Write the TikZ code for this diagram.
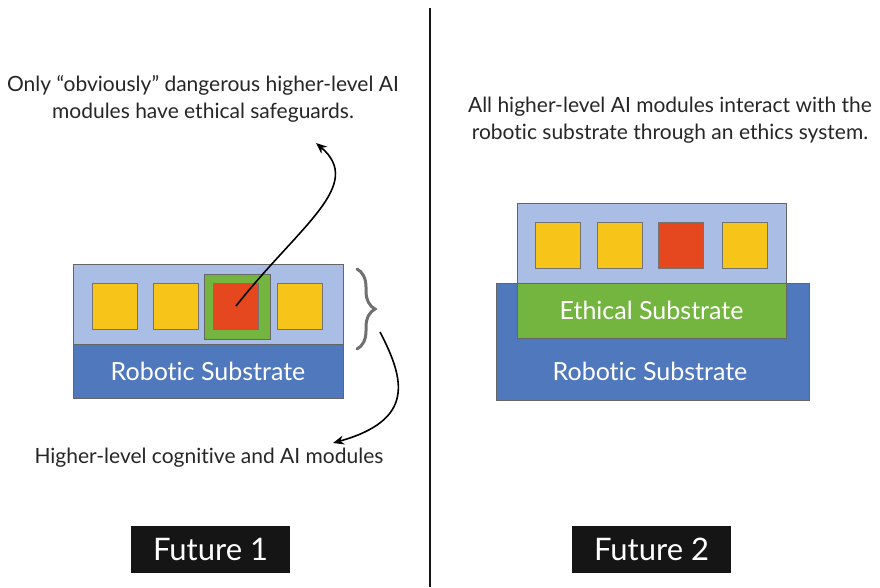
\documentclass[tikz,border=0pt]{standalone}
\usepackage{fontspec}
\setmainfont{Lato}[Ligatures={NoCommon}]
\usetikzlibrary{arrows.meta,decorations.pathreplacing}

\definecolor{azulClaro}{HTML}{AABDE4}
\definecolor{azulOscuro}{HTML}{5078BD}
\definecolor{amarillo}{HTML}{F7C419}
\definecolor{rojo}{HTML}{E5471F}
\definecolor{verde}{HTML}{74B540}
\definecolor{negro}{HTML}{151515}
\definecolor{gris}{HTML}{707070}

\tikzset{
  capa/.style={draw=black!60, line width=0.6pt, inner sep=0pt},
  modulo/.style={draw=black!55, line width=0.6pt, fill=amarillo, minimum width=45pt, minimum height=46pt, inner sep=0pt},
  etiqueta/.style={text=white, font=\fontsize{25}{29}\selectfont},
  nota/.style={align=center, text=black!85, font=\fontsize{21}{27.5}\selectfont},
  futuro/.style={fill=negro, text=white, minimum width=159pt, minimum height=47pt, inner sep=0pt, font=\fontsize{31}{36}\selectfont},
  flecha/.style={-{Stealth[length=11pt,width=9pt]}, line width=1.6pt}
}

\begin{document}
\begin{tikzpicture}[x=1pt,y=-1pt]
\useasboundingbox (0,0) rectangle (880,587);

% Divide los dos futuros
\draw[line width=2.4pt, negro] (430,8) -- (430,587);

% Futuro 1: capas
\node[capa, fill=azulClaro, minimum width=270pt, minimum height=80pt] (modsL) at (208,304) {};
\node[capa, fill=azulOscuro, minimum width=270pt, minimum height=54pt, etiqueta] (robL) at (208,371) {Robotic Substrate};

% Futuro 1: modulos
\node[modulo] (m1L) at (114.5,306) {};
\node[modulo] (m2L) at (175.5,306) {};
\node[capa, fill=verde, minimum width=66pt, minimum height=65pt] (guardL) at (237,306.5) {};
\node[modulo, fill=rojo] (rojoL) at (236,306) {};
\node[modulo] (m4L) at (300,306) {};

% Llave de los modulos
\draw[gris, line width=3pt, line cap=round, decorate, decoration={brace, amplitude=18pt}] (357,269) -- (357,349);

% Notas del futuro 1
\node[nota] (notaSup) at (203,99) {Only “obviously” dangerous higher-level AI\\modules have ethical safeguards.};
\node[nota] (notaInf) at (209,458) {Higher-level cognitive and AI modules};

% Flechas
\coordinate (punta1) at (316,143);
\coordinate (inicio2) at (380,332);
\coordinate (punta2) at (333,443);
\draw[flecha] (rojoL.center) .. controls (300,225) and (365,185) .. (punta1);
\draw[flecha] (inicio2) .. controls (405,380) and (415,420) .. (punta2);

% Futuro 2: capas
\node[capa, fill=azulOscuro, minimum width=313pt, minimum height=117pt] (robR) at (652.5,341.5) {};
\node[capa, fill=azulClaro, minimum width=269pt, minimum height=80pt] (modsR) at (651.5,243) {};
\node[capa, fill=verde, minimum width=269pt, minimum height=55pt, etiqueta] (eticaR) at (651.5,310.5) {Ethical Substrate};
\node[etiqueta] (robTexto) at (650,371) {Robotic Substrate};

% Futuro 2: modulos
\node[modulo] (m1R) at (558,245) {};
\node[modulo] (m2R) at (619.5,245) {};
\node[modulo, fill=rojo] (rojoR) at (680.5,245) {};
\node[modulo] (m4R) at (744.5,245) {};

% Nota del futuro 2
\node[nota] (notaDer) at (670,120) {All higher-level AI modules interact with the\\robotic substrate through an ethics system.};

% Titulos
\node[futuro] (fut1) at (210.5,549.5) {Future 1};
\node[futuro] (fut2) at (651.5,549.5) {Future 2};

\end{tikzpicture}
\end{document}
